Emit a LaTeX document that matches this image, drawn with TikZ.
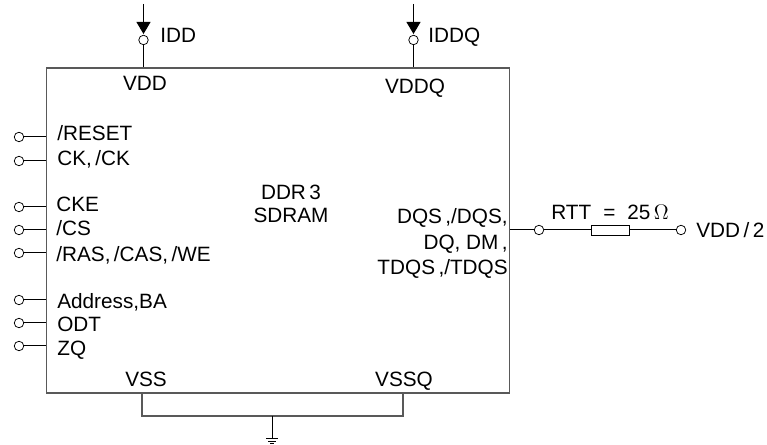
\documentclass[tikz,border=0pt]{standalone}
\usepackage{fontspec}
\setmainfont{Liberation Sans}
\usetikzlibrary{arrows.meta}

\tikzset{
  pin/.style={draw,circle,fill=white,inner sep=0pt,minimum size=0.19cm,line width=0.015cm},
  sig/.style={anchor=west,inner sep=0pt,text height=0.29cm,text depth=0pt,font=\fontsize{11.8}{13}\selectfont},
  cen/.style={sig,anchor=center},
  wire/.style={line width=0.02cm},
  bus/.style={line width=0.022cm,draw=black!65}
}

\begin{document}
\begin{tikzpicture}
  \useasboundingbox (0,0) rectangle (15.34,8.9);

  \node[draw=black!65,line width=0.03cm,rectangle,inner sep=0pt,minimum width=9.26cm,minimum height=6.5cm] (chip) at (5.56,4.29) {};

  \node[pin] (pdd) at (2.87,8.1) {};
  \node[pin] (pddq) at (8.27,8.1) {};
  \coordinate (sdd) at (2.87,8.82);
  \coordinate (sddq) at (8.27,8.82);
  \coordinate (tdd) at (2.87,8.22);
  \coordinate (tddq) at (8.27,8.22);

  \draw[wire] (pdd) -- (pdd |- chip.north);
  \draw[wire] (pddq) -- (pddq |- chip.north);
  \draw[wire,-{Triangle[width=0.28cm,length=0.24cm]}] (sdd) -- (tdd);
  \draw[wire,-{Triangle[width=0.28cm,length=0.24cm]}] (sddq) -- (tddq);

  \node[sig] (idd) at (3.2,8.2) {IDD};
  \node[sig] (iddq) at (8.56,8.2) {IDDQ};
  \node[cen] (vdd) at (2.9,7.24) {VDD};
  \node[cen] (vddq) at (8.3,7.18) {VDDQ};

  \node[pin] (p1) at (0.38,6.16) {};
  \node[pin] (p2) at (0.38,5.68) {};
  \node[pin] (p3) at (0.38,4.76) {};
  \node[pin] (p4) at (0.38,4.3) {};
  \node[pin] (p5) at (0.38,3.84) {};
  \node[pin] (p6) at (0.38,2.9) {};
  \node[pin] (p7) at (0.38,2.44) {};
  \node[pin] (p8) at (0.38,1.98) {};

  \draw[wire] (p1) -- (p1 -| chip.west);
  \draw[wire] (p2) -- (p2 -| chip.west);
  \draw[wire] (p3) -- (p3 -| chip.west);
  \draw[wire] (p4) -- (p4 -| chip.west);
  \draw[wire] (p5) -- (p5 -| chip.west);
  \draw[wire] (p6) -- (p6 -| chip.west);
  \draw[wire] (p7) -- (p7 -| chip.west);
  \draw[wire] (p8) -- (p8 -| chip.west);

  \node[sig] (l1) at (1.14,6.24) {/RESET};
  \node[sig] (l2) at (1.14,5.74) {CK,\,/CK};
  \node[sig] (l3) at (1.12,4.82) {CKE};
  \node[sig] (l4) at (1.12,4.34) {/CS};
  \node[sig] (l5) at (1.12,3.82) {/RAS,\,/CAS,\,/WE};
  \node[sig] (l6) at (1.14,2.88) {Address,BA};
  \node[sig] (l7) at (1.14,2.42) {ODT};
  \node[sig] (l8) at (1.14,1.94) {ZQ};

  \node[cen] (ddr) at (5.82,5.06) {DDR\,3};
  \node[cen] (sdram) at (5.82,4.6) {SDRAM};

  \node[sig,anchor=east] (dqs) at (10.16,4.58) {DQS\,,/DQS,};
  \node[sig,anchor=east] (dq) at (10.16,4.06) {DQ, DM\,,};
  \node[sig,anchor=east] (tdqs) at (10.16,3.56) {TDQS\,,/TDQS};

  \node[pin] (pq) at (10.78,4.3) {};
  \node[draw,rectangle,inner sep=0pt,minimum width=0.76cm,minimum height=0.2cm,line width=0.015cm] (rtt) at (12.2,4.3) {};
  \node[pin] (pv) at (13.62,4.3) {};

  \draw[wire] (pq -| chip.east) -- (pq);
  \draw[wire] (pq) -- (rtt);
  \draw[wire] (rtt) -- (pv);

  \node[sig] (lrtt) at (11.02,4.66) {RTT\hspace{0.24cm}=\hspace{0.24cm}25\,$\Omega$};
  \node[sig] (lvdd) at (13.92,4.3) {VDD\,/\,2};

  \node[cen] (vss) at (2.92,1.32) {VSS};
  \node[cen] (vssq) at (8.08,1.32) {VSSQ};

  \coordinate (bss) at (2.84,0.58);
  \coordinate (bssq) at (8.06,0.58);
  \coordinate (top) at (5.44,0.58);
  \node[inner sep=0pt,minimum size=0pt] (gnd) at (5.44,0.12) {};

  \draw[bus] (bss |- chip.south) -- (bss) -- (bssq) -- (bssq |- chip.south);
  \draw[wire] (top) -- (gnd);
  \draw[wire] (5.32,0.12) -- (5.56,0.12);
  \draw[wire] (5.36,0.07) -- (5.52,0.07);
  \draw[wire] (5.4,0.02) -- (5.48,0.02);

\end{tikzpicture}
\end{document}
